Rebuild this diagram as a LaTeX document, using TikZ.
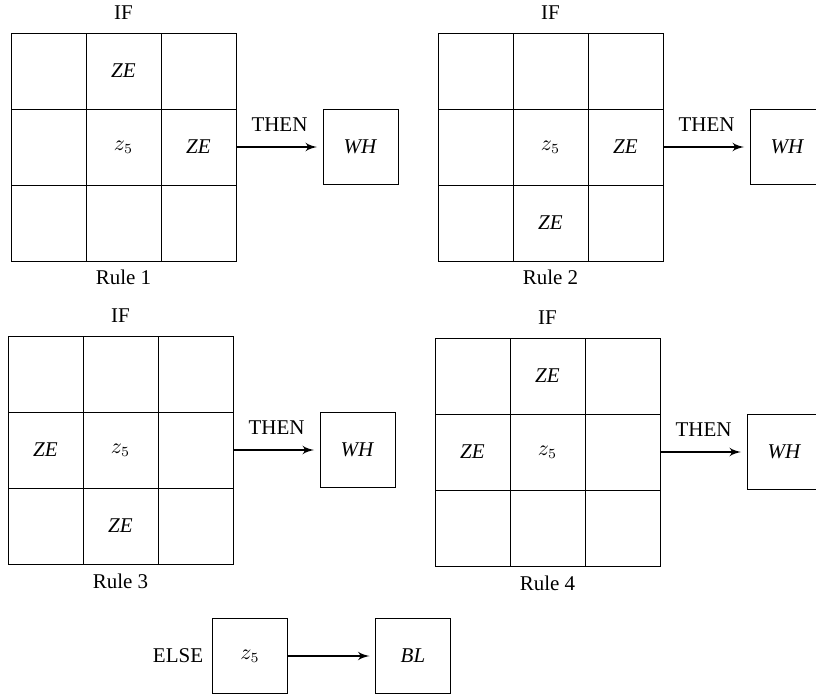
\documentclass[tikz,border=0pt]{standalone}
\usepackage{fontspec}
\setmainfont{Liberation Serif}
\usetikzlibrary{arrows, positioning}
\tikzset{
    cell/.style = {rectangle, draw, line width=0.5pt, inner sep=0pt, outer sep=0pt, minimum width=37.5pt, minimum height=38pt},
    outbox/.style = {rectangle, draw, line width=0.5pt, inner sep=0pt, outer sep=0pt, minimum size=37.5pt},
    line/.style = {draw, -latex', line width=1pt, shorten >=3pt}
}
\begin{document}
\begin{tikzpicture}[x=0.5pt, y=-0.5pt, font=\fontsize{10.5}{12}\selectfont]
        \useasboundingbox (0,0) rectangle (816,696);

        % Grids of the four rules
        \foreach \r/\ox/\oy in {1/11/33, 2/438/33, 3/8/336, 4/435/338} {
            \foreach \i in {1,2,3} {
                \foreach \j in {1,2,3} {
                    \node [cell] (g\r-\i-\j) at ({\ox+75*\i-37.5},{\oy+76*\j-38}) {};
                }
            }
            % Titles
            \node [anchor=base] (if\r) at ([yshift=7pt]g\r-2-1.north) {IF};
            \node [anchor=base] (rule\r) at ([yshift=-12pt]g\r-2-3.south) {Rule \r};
            % Consequent
            \node [outbox, right=43.5pt of g\r-3-2] (wh\r) {\textit{WH}};
            \path [line] (g\r-3-2.east) -- (wh\r.west) node [midway, above=4pt] (then\r) {THEN};
            \node (z\r) at (g\r-2-2) {$z_5$};
        }

        % Cell entries
        \node (ze1a) at (g1-2-1) {\textit{ZE}};
        \node (ze1b) at (g1-3-2) {\textit{ZE}};
        \node (ze2a) at (g2-3-2) {\textit{ZE}};
        \node (ze2b) at (g2-2-3) {\textit{ZE}};
        \node (ze3a) at (g3-1-2) {\textit{ZE}};
        \node (ze3b) at (g3-2-3) {\textit{ZE}};
        \node (ze4a) at (g4-2-1) {\textit{ZE}};
        \node (ze4b) at (g4-1-2) {\textit{ZE}};

        % Else rule
        \node [outbox] (zelse) at (250,656) {$z_5$};
        \node [anchor=east, inner sep=0pt] (else) at ([xshift=-4.5pt]zelse.west) {ELSE};
        \node [outbox, right=44pt of zelse] (bl) {\textit{BL}};
        \path [line] (zelse) -- (bl);

    \end{tikzpicture}
\end{document}
